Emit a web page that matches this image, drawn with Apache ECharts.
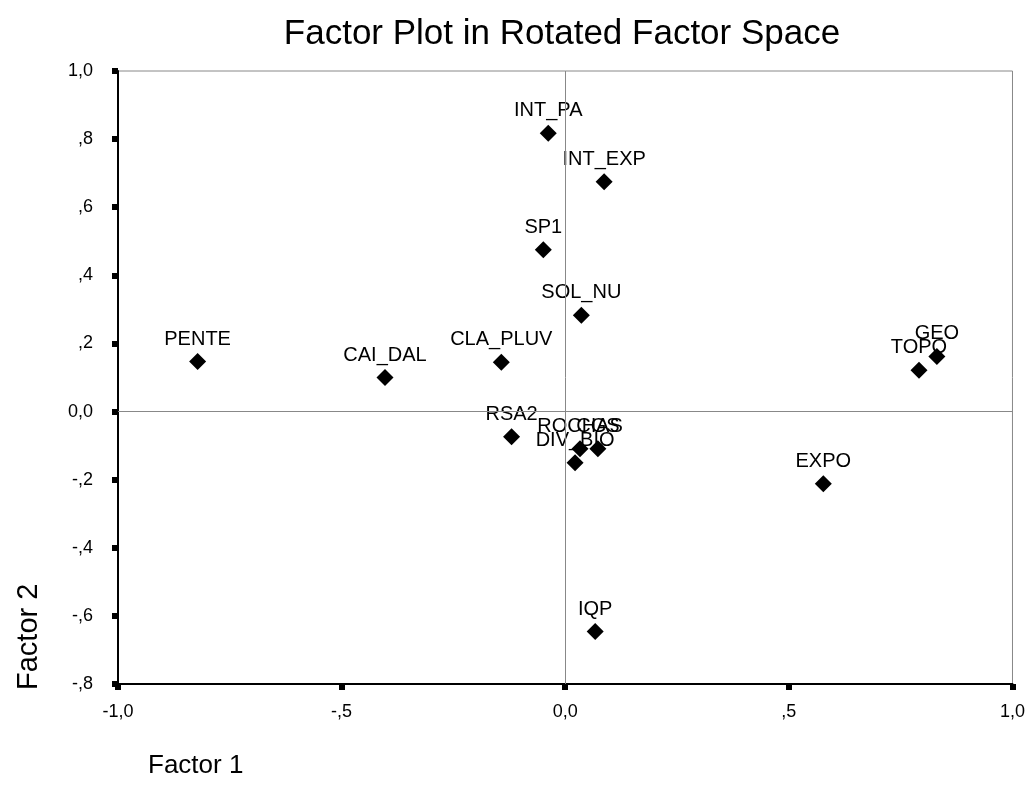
<!DOCTYPE html>
<html>
<head>
<meta charset="utf-8">
<script src="https://cdn.jsdelivr.net/npm/echarts@6/dist/echarts.min.js"></script>
<style>html,body{margin:0;padding:0;background:#fff}#c{width:1028px;height:800px}</style>
</head>
<body>
<div id="c"></div>
<script>
const names = ['INT_PA','INT_EXP','SP1','SOL_NU','PENTE','CAI_DAL','CLA_PLUV','TOPO','GEO','RSA2','ROCHAS','CGS','DIV_BIO','EXPO','IQP'];
const factor1 = [-0.038,0.087,-0.049,0.036,-0.822,-0.403,-0.143,0.791,0.831,-0.120,0.033,0.073,0.022,0.577,0.067];
const factor2 = [0.817,0.675,0.475,0.283,0.147,0.100,0.145,0.121,0.162,-0.074,-0.109,-0.109,-0.150,-0.212,-0.646];
const xTicks = [-1.0,-0.5,0.0,0.5,1.0];
const yTicks = [-0.8,-0.6,-0.4,-0.2,0.0,0.2,0.4,0.6,0.8,1.0];

function fmt(v){
  const r = Math.round(v*10)/10;
  if (Math.abs(r) < 1e-9) return '0,0';
  if (Math.abs(r) >= 1) return (r<0?'-':'') + '1,0';
  const d = Math.round(Math.abs(r)*10);
  return (r<0?'-':'') + ',' + d;
}

const FONT = 'Liberation Sans, Arial, sans-serif';
const chart = echarts.init(document.getElementById('c'));
chart.setOption({
  backgroundColor:'#fff',
  animation:false,
  title:{text:'Factor Plot in Rotated Factor Space',left:557,top:12,textAlign:'center',
    textStyle:{fontFamily:FONT,fontSize:35,fontWeight:'normal',color:'#000'}},
  grid:{left:118,right:12,top:71,bottom:116,show:true,borderColor:'#888',borderWidth:1,backgroundColor:'transparent'},
  xAxis:{type:'value',min:xTicks[0],max:xTicks[xTicks.length-1],interval:0.5,
    axisLine:{show:true,onZero:false,lineStyle:{color:'#000',width:2}},
    axisTick:{show:true,length:6,lineStyle:{color:'#000',width:6}},
    splitLine:{show:false},
    axisLabel:{margin:19,fontFamily:FONT,fontSize:18,color:'#000',formatter:fmt}},
  yAxis:{type:'value',min:yTicks[0],max:yTicks[yTicks.length-1],interval:0.2,
    axisLine:{show:true,onZero:false,lineStyle:{color:'#000',width:2}},
    axisTick:{show:true,length:6,lineStyle:{color:'#000',width:6}},
    splitLine:{show:false},
    axisLabel:{margin:25,fontFamily:FONT,fontSize:18,color:'#000',formatter:fmt}},
  graphic:[
    {type:'text',left:148,top:753,style:{text:'Factor 1',fontFamily:FONT,fontSize:26,fill:'#000'}},
    {type:'text',x:14,y:690,rotation:Math.PI/2,style:{text:'Factor 2',fontFamily:FONT,fontSize:29,fill:'#000'}}
  ],
  series:[{
    type:'scatter',
    symbol:'diamond',
    symbolSize:[17,17],
    itemStyle:{color:'#000',opacity:1},
    emphasis:{disabled:true},
    data:names.map((n,i)=>({name:n,value:[factor1[i],factor2[i]]})),
    label:{show:true,position:'top',distance:4,formatter:'{b}',fontFamily:FONT,fontSize:20,color:'#000',opacity:1},
    labelLayout:{hideOverlap:false},
    markLine:{silent:true,symbol:['none','none'],label:{show:false},
      lineStyle:{color:'#888',width:1,type:'solid'},
      data:[{xAxis:0},{yAxis:0}]}
  }]
});
</script>
</body>
</html>
